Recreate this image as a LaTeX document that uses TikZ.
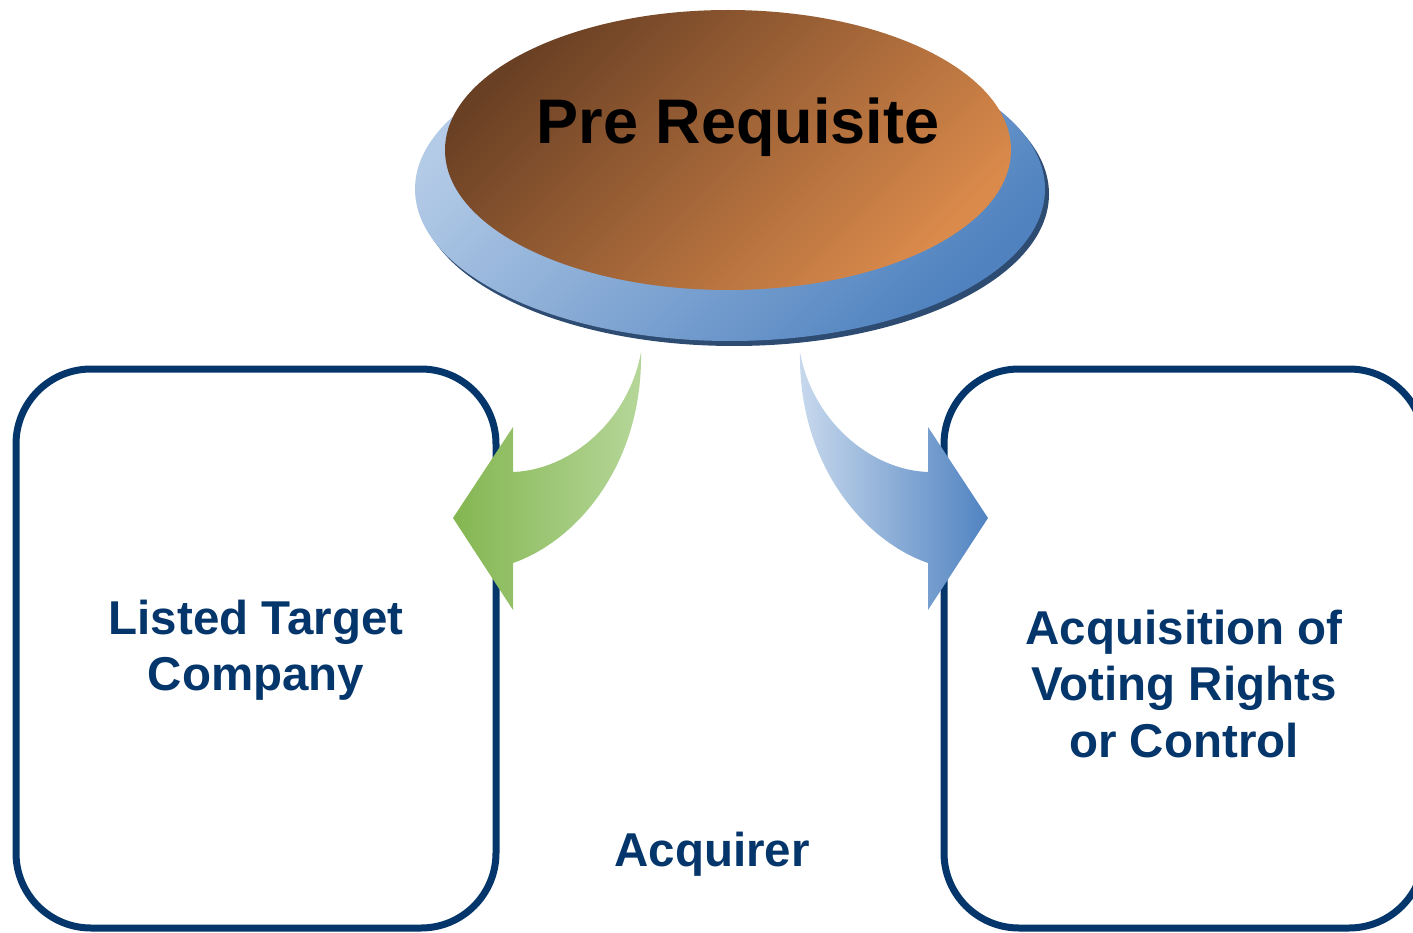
\documentclass[tikz,border=0pt]{standalone}
\usepackage{fontspec}
\setmainfont{Liberation Sans}
\usetikzlibrary{shapes.geometric}

\definecolor{navy}{HTML}{05366B}
\definecolor{rimblue}{HTML}{2E4B71}
\definecolor{disclight}{HTML}{B4CBE7}
\definecolor{discdark}{HTML}{4F82BF}
\definecolor{brownd}{HTML}{6A4024}
\definecolor{brownl}{HTML}{DA8A4B}
\definecolor{greenhead}{HTML}{84B651}
\definecolor{greentail}{HTML}{B6D79A}
\definecolor{bluetail}{HTML}{C8D9ED}
\definecolor{bluehead}{HTML}{5083C1}

\tikzset{
  panel/.style={draw=navy, line width=7pt, rounded corners=75pt,
    minimum width=480pt, minimum height=559pt, inner sep=0pt, fill=white},
  label/.style={text=navy, font=\bfseries\fontsize{47.5}{56.5}\selectfont,
    align=center, inner sep=0pt},
}

\begin{document}
\begin{tikzpicture}[x=1pt, y=-1pt]
  \useasboundingbox (0,0) rectangle (1413,933);
  \clip (0,0) rectangle (1413,933);

  % base disc with dark rim
  \fill[rimblue] (734,194) ellipse [x radius=315, y radius=152];
  \shade[top color=disclight, bottom color=discdark, shading angle=45]
    (730,189) ellipse [x radius=315, y radius=152];

  % top disc
  \node[ellipse, minimum width=566pt, minimum height=280pt, inner sep=0pt,
        top color=brownd, bottom color=brownl, shading angle=45] (pre) at (728,150) {};
  \node[font=\bfseries\fontsize{63}{70}\selectfont, text=black, inner sep=0pt]
    (pretext) at (738,127) {Pre Requisite};

  % side panels
  \node[panel] (target) at (256,648.5) {};
  \node[panel] (voting) at (1184,648.5) {};

  \node[label] (targettext) at (256,650) {Listed Target\\Company};
  \node[label] (votingtext) at (1184,684) {Acquisition of\\Voting Rights\\or Control};
  \node[label] (acquirer) at (712,854) {Acquirer};

  % curved block arrows
  \shade[left color=greenhead, right color=greentail]
    (641,352) .. controls (629,420) and (571,470) .. (513,472)
    -- (513,427) -- (453,518) -- (513,610) -- (513,563)
    .. controls (579,540) and (643,462) .. (641,352) -- cycle;
  \shade[left color=bluetail, right color=bluehead]
    (800,352) .. controls (812,420) and (870,470) .. (928,472)
    -- (928,427) -- (988,518) -- (928,610) -- (928,563)
    .. controls (862,540) and (798,462) .. (800,352) -- cycle;
\end{tikzpicture}
\end{document}
